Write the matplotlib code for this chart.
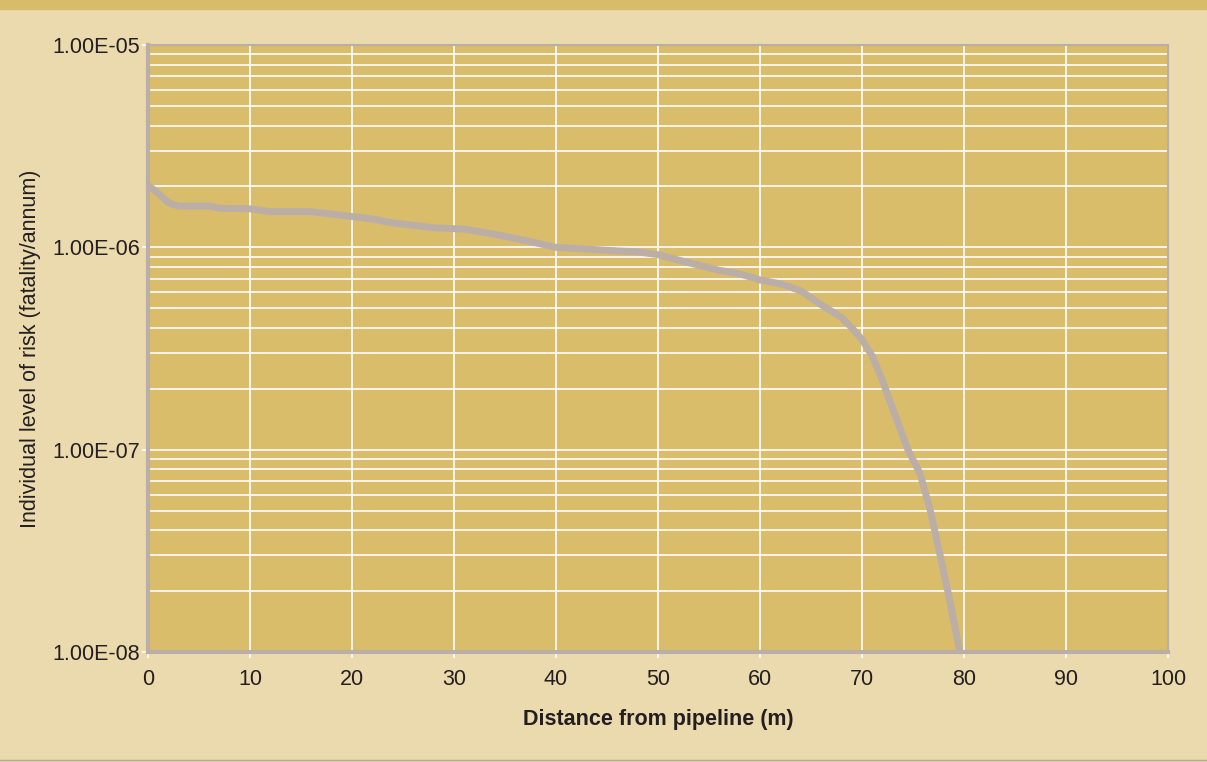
import matplotlib.pyplot as plt
import numpy as np
from matplotlib.ticker import LogLocator
from matplotlib.patches import Rectangle
from matplotlib.lines import Line2D

plt.rcParams['font.family'] = ['Liberation Sans', 'DejaVu Sans']

# distance from pipeline (m) and individual risk (fatality/annum)
distance = [0, 1, 2, 3, 6, 7, 10, 12, 16, 20, 22, 24, 28, 31, 34, 37, 40, 43, 46,
            48, 50, 53, 56, 58, 60, 62, 64, 66, 68, 69, 70, 71, 72, 73, 74.5,
            75.7, 76.7, 77.6, 78.6, 79.6]
risk = [2.03e-6, 1.85e-6, 1.66e-6, 1.6e-6, 1.6e-6, 1.56e-6, 1.55e-6, 1.5e-6, 1.5e-6,
        1.42e-6, 1.38e-6, 1.32e-6, 1.25e-6, 1.23e-6, 1.16e-6, 1.08e-6, 1.0e-6, 0.98e-6,
        0.96e-6, 0.95e-6, 0.92e-6, 0.84e-6, 0.77e-6, 0.74e-6, 0.69e-6, 0.66e-6, 0.61e-6,
        0.52e-6, 0.45e-6, 0.40e-6, 0.35e-6, 0.29e-6, 0.22e-6, 0.16e-6, 1.0e-7,
        7.6e-8, 5.0e-8, 3.1e-8, 1.8e-8, 1.0e-8]
x_ticks = list(range(0, 101, 10))
y_ticks = [1e-8, 1e-7, 1e-6, 1e-5]
y_labels = ["1.00E-08", "1.00E-07", "1.00E-06", "1.00E-05"]

bg = "#eadaae"
panel = "#d9bd6b"
line_col = "#bbaea6"

fig = plt.figure(figsize=(12.07, 7.62), dpi=100, facecolor=bg)
fig.patches.append(Rectangle((0, 1 - 9 / 762), 1, 9 / 762, transform=fig.transFigure,
                             color="#d8bc6a", zorder=0))
fig.lines.append(Line2D([0, 1], [2 / 762, 2 / 762], transform=fig.transFigure,
                        color="#b5a898", lw=1))

ax = fig.add_axes([148 / 1207, 1 - 652 / 762, 1020 / 1207, 607 / 762])
ax.set_facecolor(panel)
ax.set_yscale("log")
ax.set_xlim(0, 100)
ax.set_ylim(1e-8, 1e-5)

ax.plot(distance, risk, color=line_col, lw=5, solid_capstyle="butt",
        solid_joinstyle="round", zorder=3)

ax.set_xticks(x_ticks)
ax.set_yticks(y_ticks)
ax.set_yticklabels(y_labels)
ax.yaxis.set_minor_locator(LogLocator(base=10, subs=np.arange(2, 10)))
ax.yaxis.set_minor_formatter(plt.NullFormatter())
ax.grid(True, which="major", color="white", lw=1.2, zorder=1)
ax.grid(True, which="minor", axis="y", color="white", lw=1.2)
ax.set_axisbelow(True)

ax.tick_params(axis="both", which="major", color="white", length=4, width=1.2,
               labelsize=15.5, labelcolor="#231f20")
ax.tick_params(axis="y", which="major", pad=2)
ax.tick_params(axis="x", which="major", pad=8)
ax.tick_params(axis="y", which="minor", length=0)

for s in ax.spines.values():
    s.set_color(line_col)
    s.set_linewidth(1.5)
ax.spines["left"].set_linewidth(3)
ax.spines["bottom"].set_linewidth(3)

ax.set_xlabel("Distance from pipeline (m)", fontsize=15.5, fontweight="bold",
              color="#231f20", labelpad=14)
ax.set_ylabel("Individual level of risk (fatality/annum)", fontsize=15.5,
              color="#231f20", labelpad=8)

plt.savefig("out.png", dpi=100, facecolor=bg)
